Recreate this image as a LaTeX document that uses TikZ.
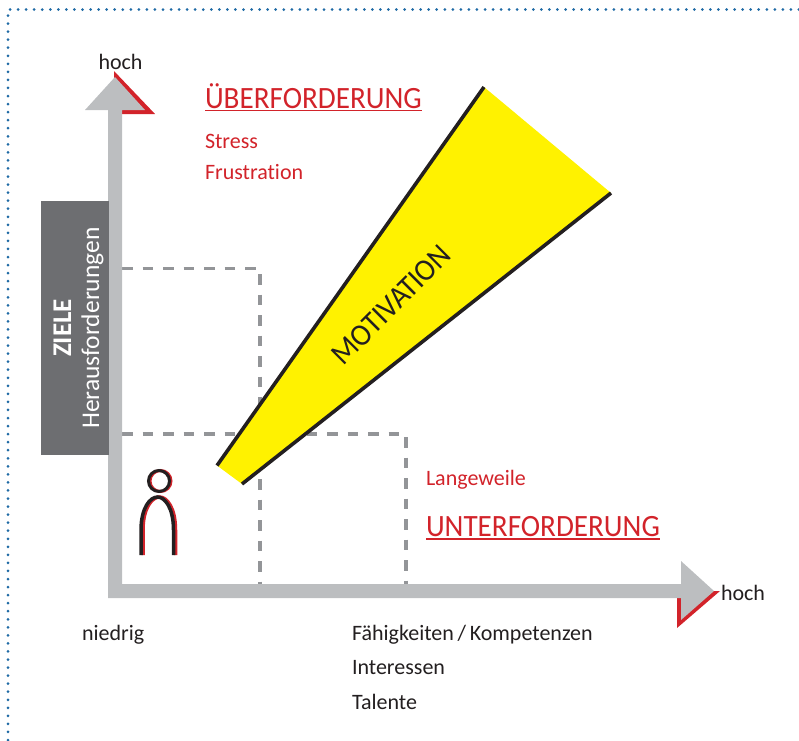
\documentclass[tikz,border=0pt]{standalone}
\usepackage{fontspec}
\setmainfont[Ligatures=NoCommon]{Carlito}
\newfontfamily\narrowfam[FakeStretch=0.94,Ligatures=NoCommon]{Carlito}
\definecolor{axisgrey}{HTML}{BCBEC0}
\definecolor{boxgrey}{HTML}{6D6E71}
\definecolor{dashgrey}{HTML}{939598}
\definecolor{hotred}{HTML}{D2232A}
\definecolor{wedgeyellow}{HTML}{FFF200}
\definecolor{dotblue}{HTML}{1F6AA5}
\definecolor{inkblack}{HTML}{231F20}
\tikzset{
  lbl/.style={inner sep=0pt,outer sep=0pt,text=inkblack,font=\fontsize{22}{26}\selectfont,anchor=base west},
  redlbl/.style={lbl,text=hotred},
  bigred/.style={redlbl,font=\narrowfam\fontsize{31}{36}\selectfont},
  dashline/.style={draw=dashgrey,line width=3.2pt,dash pattern=on 10.5pt off 10pt},
  dotline/.style={draw=dotblue,line width=3pt,line cap=round,dash pattern=on 0pt off 8.05pt},
  edgeline/.style={draw=inkblack,line width=3.6pt},
}
\begin{document}
\begin{tikzpicture}[x=1pt,y=-1pt]
\useasboundingbox (0,0) rectangle (799,740);
\coordinate (bTL) at (8,9.5);
\coordinate (bTR) at (799,9.5);
\coordinate (bBL) at (8,740);
\draw[dotline] (bBL) -- (bTL) -- (bTR);
% dashed boxes
\coordinate (d1a) at (122,268.5);
\coordinate (d1b) at (260,268.5);
\coordinate (d1c) at (260,584);
\coordinate (d2a) at (122,434);
\coordinate (d2b) at (406,434);
\coordinate (d2c) at (406,584);
\draw[dashline] (d1a) -- (d1b) -- (d1c);
\draw[dashline] (d2a) -- (d2b) -- (d2c);
% red shadows of arrowheads
\fill[hotred] (114,71) -- (155,114) -- (115,114) -- cycle;
\fill[hotred] (677,598) -- (677,628) -- (720,591) -- (700,591) -- cycle;
% axes
\fill[axisgrey] (108,598) -- (108,110) -- (85,110) -- (115,77) -- (145,110) -- (122,110) -- (122,584) -- (681,584) -- (681,561) -- (714,591) -- (681,620) -- (681,598) -- cycle;
% box
\fill[boxgrey] (41,201) rectangle (108.5,455);
\node[inner sep=0pt,text=white,rotate=90,align=center,font=\fontsize{25.5}{28}\selectfont] (ziele) at (78.5,328) {{\fontsize{27}{28}\selectfont\textbf{ZIELE}}\\Herausforderungen};
% wedge
\coordinate (w1) at (217,465.5);
\coordinate (w2) at (484,87);
\coordinate (w3) at (611,193);
\coordinate (w4) at (242,484);
\fill[wedgeyellow] (w1) -- (w2) -- (w3) -- (w4) -- cycle;
\draw[edgeline] (w1) -- (w2);
\draw[edgeline] (w3) -- (w4);
\node[inner sep=0pt,text=inkblack,rotate=45,font=\narrowfam\fontsize{31}{32}\selectfont] (mot) at (391,305) {MOTIVATION};
% person
\draw[hotred,line width=3pt] (160.5,481) circle (10.5);
\draw[hotred,line width=3.5pt] (143,555) -- (143,530) .. controls (143,508) and (152,497) .. (159.5,497) .. controls (167,497) and (175.5,508) .. (175.5,530) -- (175.5,555);
\draw[inkblack,line width=3pt] (159,481) circle (10.5);
\draw[inkblack,line width=3.5pt] (141,555) -- (141,530) .. controls (141,508) and (150,497) .. (157.5,497) .. controls (165,497) and (173.5,508) .. (173.5,530) -- (173.5,555);
% texts
\node[lbl] (h1) at (98.5,69) {hoch};
\node[lbl] (h2) at (721,600) {hoch};
\node[lbl] (nied) at (82,640) {niedrig};
\node[lbl] (f1) at (352,640) {Fähigkeiten\,/\,Kompetenzen};
\node[lbl] (f2) at (352,674) {Interessen};
\node[lbl] (f3) at (352,709) {Talente};
\node[bigred] (ue) at (205,108) {ÜBERFORDERUNG};
\coordinate (ue1) at (205,110.5);
\coordinate (ue2) at (422,110.5);
\draw[hotred,line width=1.5pt] (ue1) -- (ue2);
\node[redlbl] (s1) at (205,148) {Stress};
\node[redlbl] (s2) at (205,179) {Frustration};
\node[redlbl] (lw) at (426,485) {Langeweile};
\node[bigred] (un) at (426,536) {UNTERFORDERUNG};
\coordinate (un1) at (426,539);
\coordinate (un2) at (660,539);
\draw[hotred,line width=1.5pt] (un1) -- (un2);
\end{tikzpicture}
\end{document}
